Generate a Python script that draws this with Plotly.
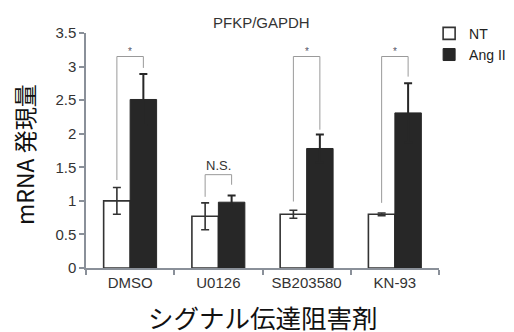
import plotly.graph_objects as go

categories = ["DMSO", "U0126", "SB203580", "KN-93"]
nt_values = [1.00, 0.77, 0.80, 0.80]
nt_errors = [0.20, 0.20, 0.06, 0.02]
ang_values = [2.51, 0.98, 1.78, 2.31]
ang_errors = [0.38, 0.10, 0.21, 0.44]

# significance brackets: top level, left leg bottom, right leg bottom, label
br_top = [3.15, 1.39, 3.15, 3.15]
br_left = [1.31, 1.06, 0.99, 0.97]
br_right = [2.98, 1.24, 2.06, 2.85]
br_label = ["*", "N.S.", "*", "*"]

BW = 0.3
DARK = "#272727"
fig = go.Figure()
fig.add_trace(go.Bar(
    x=categories, y=nt_values, name="NT", width=BW, offset=-BW,
    marker=dict(color="white", line=dict(color="#333333", width=1.6)),
    error_y=dict(type="data", array=nt_errors, color="#333333", thickness=1.6, width=4),
))
fig.add_trace(go.Bar(
    x=categories, y=ang_values, name="Ang II", width=BW, offset=0,
    marker=dict(color=DARK, line=dict(color=DARK, width=1)),
    error_y=dict(type="data", array=ang_errors, color=DARK, thickness=2, width=4),
))

shapes = []
annotations = []
for i in range(len(categories)):
    xl = i - BW / 2
    xr = i + BW / 2
    ln = dict(color="#9a9a9a", width=1)
    shapes.append(dict(type="line", xref="x", yref="y", x0=xl, x1=xr, y0=br_top[i], y1=br_top[i], line=ln))
    shapes.append(dict(type="line", xref="x", yref="y", x0=xl, x1=xl, y0=br_left[i], y1=br_top[i], line=ln))
    shapes.append(dict(type="line", xref="x", yref="y", x0=xr, x1=xr, y0=br_right[i], y1=br_top[i], line=ln))
    if br_label[i] == "*":
        annotations.append(dict(x=i, y=br_top[i], xref="x", yref="y", text="*", showarrow=False,
                                yanchor="bottom", yshift=-2,
                                font=dict(family="Liberation Sans", size=10, color="#555566")))
    else:
        annotations.append(dict(x=i, y=br_top[i], xref="x", yref="y", text=br_label[i], showarrow=False,
                                yanchor="bottom", yshift=0,
                                font=dict(family="Liberation Sans", size=13, color="#333333")))

annotations.append(dict(x=0.0, y=0.481, xref="paper", yref="paper", xanchor="center", yanchor="middle",
                        xshift=-62, text="mRNA 発現量", textangle=-90, showarrow=False,
                        font=dict(family="Noto Sans CJK JP", size=23, color="#111111")))
annotations.append(dict(x=0.5, y=0, xref="paper", yref="paper", xanchor="center", yanchor="middle",
                        xshift=0, yshift=-48, text="シグナル伝達阻害剤", showarrow=False,
                        font=dict(family="Noto Sans CJK JP", size=25.5, color="#111111")))
annotations.append(dict(x=0.5, y=1, xref="paper", yref="paper", xanchor="center", yanchor="middle",
                        yshift=11, xshift=-1, text="PFKP/GAPDH", showarrow=False,
                        font=dict(family="Liberation Sans", size=15, color="#333333")))

axis_col = "#8a9099"
tickfont = dict(family="Liberation Sans", size=15, color="#333333")
fig.update_layout(
    width=514, height=332,
    margin=dict(l=86, r=75, t=33, b=64, autoexpand=False),
    paper_bgcolor="white", plot_bgcolor="white",
    barmode="overlay",
    showlegend=True,
    legend=dict(x=0.972, y=1.065, xanchor="left", yanchor="top", itemwidth=30,
                font=dict(family="Liberation Sans", size=14, color="#222222"),
                tracegroupgap=0, bgcolor="rgba(0,0,0,0)"),
    xaxis=dict(type="category", range=[-0.5, 3.5], showline=True, linecolor=axis_col, linewidth=2,
               ticks="outside", tickson="boundaries", ticklen=5, tickcolor=axis_col, tickwidth=2,
               showgrid=False, zeroline=False, tickfont=tickfont),
    yaxis=dict(range=[0, 3.5], dtick=0.5, showline=True, linecolor=axis_col, linewidth=1.5,
               ticks="outside", ticklen=5, tickcolor=axis_col, tickwidth=1.5,
               showgrid=False, zeroline=False, tickfont=tickfont),
    shapes=shapes,
    annotations=annotations,
)

fig.write_html("out.html", config={"displayModeBar": False},
               post_script="document.body.style.margin='0px';document.body.style.overflow='hidden';")
